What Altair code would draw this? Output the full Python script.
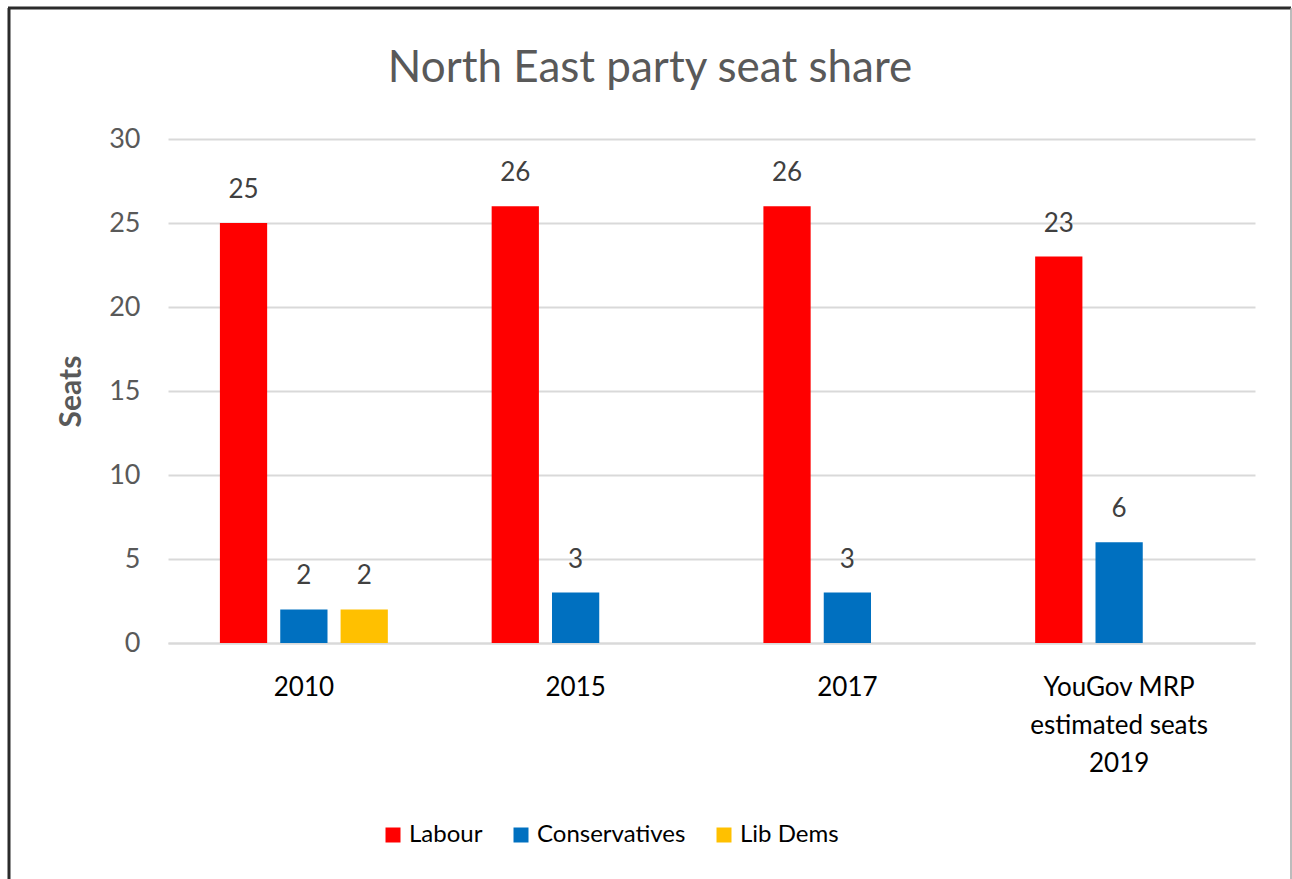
import altair as alt
import pandas as pd

categories = ["2010", "2015", "2017", "YouGov MRP\nestimated seats\n2019"]
parties = ["Labour", "Conservatives", "Lib Dems"]
colors = ["#FF0000", "#0070C0", "#FFC000"]
labour = [25, 26, 26, 23]
conservatives = [2, 3, 3, 6]
libdems = [2, None, None, None]
title_text = "North East party seat share"

rows = []
for i, c in enumerate(categories):
    for p, vals in zip(parties, [labour, conservatives, libdems]):
        if vals[i] is not None:
            rows.append({"category": c, "party": p, "seats": vals[i]})
df = pd.DataFrame(rows)

FONT = "Lato"
W, H = 1087, 504

x = alt.X("category:N", sort=categories, title=None,
          scale=alt.Scale(paddingInner=0.382, paddingOuter=0.191),
          axis=alt.Axis(labelAngle=0, labelFontSize=26, labelColor="#000000",
                        labelFont=FONT, labelPadding=31, labelLineHeight=38,
                        labelExpr="split(datum.label, '\\n')",
                        ticks=False, domainColor="#D9D9D9", domainWidth=2, grid=False))
xo = alt.XOffset("party:N", sort=parties,
                 scale=alt.Scale(domain=parties, paddingInner=0.217, paddingOuter=0))
y = alt.Y("seats:Q", title="Seats",
          scale=alt.Scale(domain=[0, 30], nice=False),
          axis=alt.Axis(values=[0, 5, 10, 15, 20, 25, 30], labelFontSize=27,
                        labelColor="#595959", labelFont=FONT, labelPadding=28,
                        ticks=False, domain=False, gridColor="#D9D9D9", gridWidth=2,
                        titleFont=FONT, titleFontSize=30, titleFontWeight="bold",
                        titleColor="#595959", titlePadding=22))
color = alt.Color("party:N", sort=parties,
                  scale=alt.Scale(domain=parties, range=colors),
                  legend=alt.Legend(title=None, orient="none", direction="horizontal",
                                    legendX=213, legendY=684, symbolType="square",
                                    symbolSize=225, symbolStrokeWidth=0,
                                    labelFont=FONT, labelFontSize=24, labelColor="#000000",
                                    labelOffset=4, columnPadding=26, padding=0))

bars = alt.Chart(df).mark_bar().encode(x=x, xOffset=xo, y=y, color=color)
labels = alt.Chart(df).mark_text(baseline="alphabetic", dy=-25, fontSize=26,
                                 font=FONT, color="#404040").encode(
    x=x, xOffset=xo, y=y, text="seats:Q")

frame_df = pd.DataFrame({"a": [0]})
title = alt.Chart(frame_df).mark_text(fontSize=44, font=FONT, color="#595959",
                                      align="center", baseline="alphabetic").encode(
    x=alt.value(482), y=alt.value(-57), text=alt.value(title_text))
left = alt.Chart(frame_df).mark_rule(color="#2b2b2b", strokeWidth=3).encode(
    x=alt.value(-159), y=alt.value(-131), y2=alt.value(760))
top = alt.Chart(frame_df).mark_rule(color="#2b2b2b", strokeWidth=3).encode(
    x=alt.value(-160), x2=alt.value(1123), y=alt.value(-131))
right = alt.Chart(frame_df).mark_rule(color="#A6A6A6", strokeWidth=1.5).encode(
    x=alt.value(1123), y=alt.value(-131), y2=alt.value(760))

chart = alt.layer(bars, labels, title, left, top, right).properties(
    width=W, height=H,
    autosize=alt.AutoSizeParams(type="none"),
    padding={"left": 168, "top": 139, "right": 37, "bottom": 236},
).configure(background="#FFFFFF").configure_view(stroke=None)

chart.save("out.html", embed_options={"renderer": "svg", "actions": False})
